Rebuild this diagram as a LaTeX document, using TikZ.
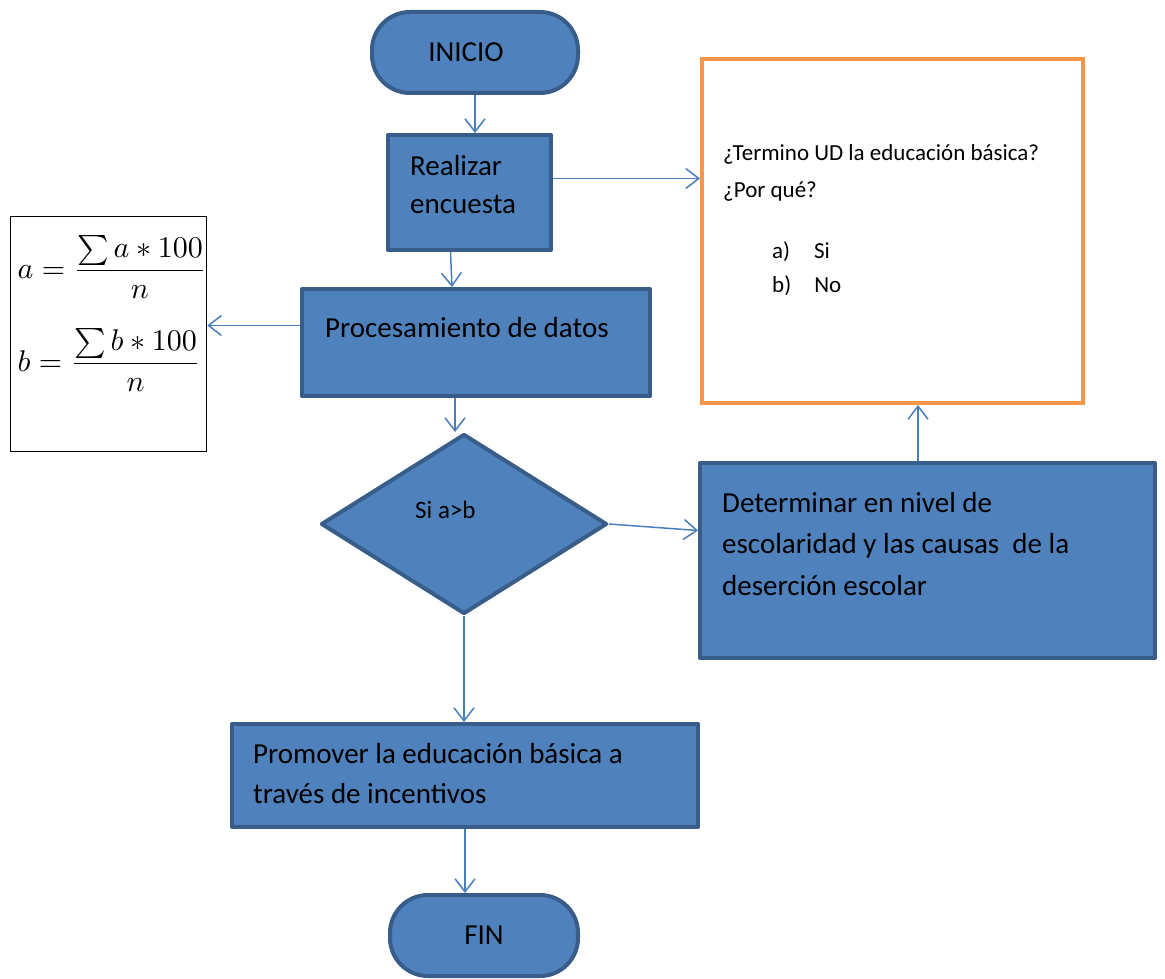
\documentclass[tikz,border=0pt]{standalone}
\usepackage{fontspec}
\setmainfont{Carlito}
\usetikzlibrary{shapes.geometric,arrows.meta,calc}
\definecolor{flowfill}{HTML}{4F81BD}
\definecolor{flowborder}{HTML}{385D8A}
\definecolor{linkblue}{HTML}{4A7EBB}
\definecolor{askorange}{HTML}{F79646}
\begin{document}
\begin{tikzpicture}[x=1pt,y=-1pt,
    flow/.style={draw=flowborder,fill=flowfill,line width=4pt,inner sep=0pt,line join=round},
    terminal/.style={flow,rounded corners=38pt,font=\fontsize{29}{35}\selectfont},
    txt/.style={inner sep=0pt,anchor=base west,align=left,font=\fontsize{29}{41}\selectfont},
    formula/.style={inner sep=0pt,anchor=base west,scale=3,transform shape},
    link/.style={draw=linkblue,line width=1.5pt,-{Straight Barb[length=13pt,width=20pt,line width=1.5pt]}}]
    \useasboundingbox (0,0) rectangle (1165,979);
    %
    \node[terminal,minimum width=206,minimum height=81] (inicio) at (475,52.5) {INICIO\hspace*{18pt}};
    \node[flow,minimum width=163,minimum height=115] (realizar) at (469.5,192.5) {};
    \node[draw=askorange,line width=4pt,fill=white,minimum width=381,minimum height=344] (pregunta) at (892.5,231) {};
    \node[flow,minimum width=348,minimum height=107] (procesa) at (476,342.5) {};
    \node[draw,line width=1.5pt,minimum width=196,minimum height=235] (formulas) at (108.5,334) {};
    \node[flow,diamond,minimum width=286,minimum height=180] (decision) at (464,524) {};
    \node[flow,minimum width=455,minimum height=195] (determina) at (927.5,560.5) {};
    \node[flow,minimum width=466,minimum height=103] (promueve) at (465,775.5) {};
    \node[terminal,minimum width=188,minimum height=81] (fin) at (484,935.5) {FIN};
    %
    % multi-line texts are placed by the baseline of their last line
    \node[txt,font=\fontsize{29}{38}\selectfont] (realizar-txt) at (410,213) {Realizar\\encuesta};
    \node[txt] (procesa-txt) at (325,337) {Procesamiento de datos};
    \node[txt,font=\fontsize{25}{30}\selectfont] (decision-txt) at (415,518) {Si a>b};
    \node[txt,font=\fontsize{29}{41.5}\selectfont] (determina-txt) at (722,595) {Determinar en nivel de\\escolaridad y las causas \ de la\\deserción escolar};
    \node[txt,font=\fontsize{29}{40}\selectfont] (promueve-txt) at (253,803) {Promover la educación básica a\\través de incentivos};
    \node[txt,font=\fontsize{23}{37}\selectfont] (pregunta-txt) at (723,197) {¿Termino UD la educación básica?\\¿Por qué?};
    \node[txt,font=\fontsize{23}{34}\selectfont] (opcion-a) at (772,258) {a)\hspace{24pt}Si};
    \node[txt,font=\fontsize{23}{34}\selectfont] (opcion-b) at (772,292) {b)\hspace{23pt}No};
    \node[formula] (formula-a) at (17,278) {$\displaystyle a=\frac{\sum a*100}{n}$};
    \node[formula] (formula-b) at (17,371) {$\displaystyle b=\frac{\sum b*100}{n}$};
    %
    \draw[link] (inicio.south) -- (inicio.south |- realizar.north);
    \draw[link] ([yshift=14pt]realizar.east) coordinate (r1) -- (r1 -| pregunta.west);
    \draw[link] ([xshift=-19pt]realizar.south) -- ([xshift=-24pt]procesa.north);
    \draw[link] ([yshift=17pt]procesa.west) coordinate (p1) -- (p1 -| formulas.east);
    \draw[link] ([xshift=-21pt]procesa.south) coordinate (p2) -- (p2 |- decision.north);
    \draw[link] (decision.east) -- ([yshift=30pt]determina.west);
    \draw[link] ([xshift=-9.5pt]determina.north) coordinate (d1) -- (d1 |- pregunta.south);
    \draw[link] (decision.south) -- (decision.south |- promueve.north);
    \draw[link] (promueve.south) -- (promueve.south |- fin.north);
\end{tikzpicture}
\end{document}
